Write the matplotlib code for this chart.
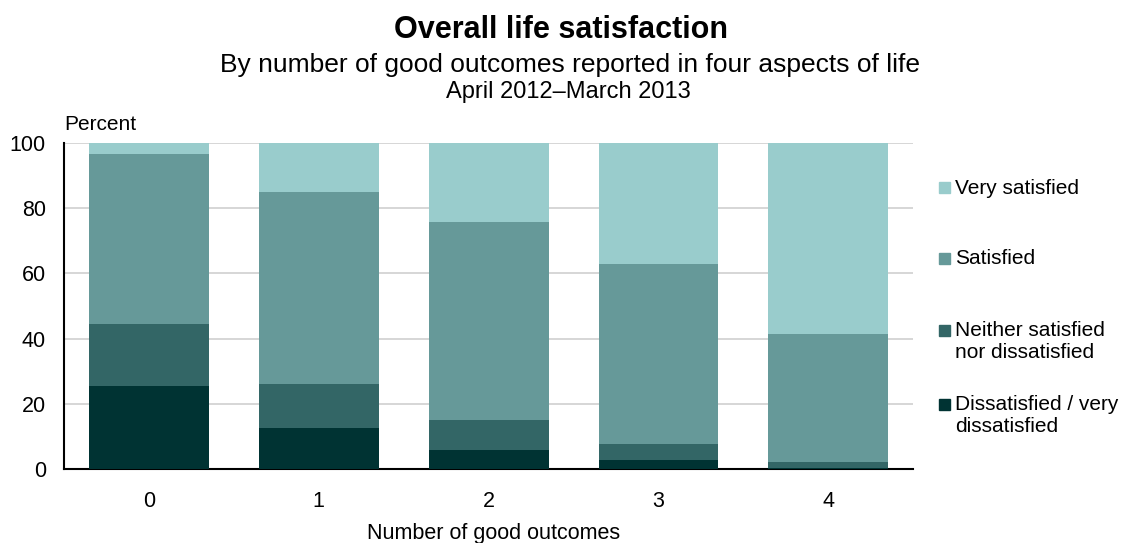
import numpy as np
import matplotlib.pyplot as plt
from matplotlib.patches import Rectangle

plt.rcParams["font.family"] = ["Liberation Sans", "DejaVu Sans"]

outcomes = ["0", "1", "2", "3", "4"]
categories = ["Dissatisfied / very\ndissatisfied", "Neither satisfied\nnor dissatisfied",
              "Satisfied", "Very satisfied"]
dissatisfied = [25.5, 12.6, 5.8, 2.8, 0.3]
neither = [19.0, 13.4, 9.2, 4.9, 1.8]
satisfied = [52.1, 59.0, 60.8, 55.2, 39.3]
very_satisfied = [3.4, 15.0, 24.2, 37.1, 58.6]

colors = ["#003333", "#336666", "#669999", "#99CCCC"]

W, H = 1122, 543
fig = plt.figure(figsize=(W / 100, H / 100), dpi=100)
ax = fig.add_axes([0.057, 0.1363, 0.757, 0.6003])

x = np.arange(len(outcomes))
bottom = np.zeros(len(outcomes))
series = [dissatisfied, neither, satisfied, very_satisfied]
for vals, col in zip(series, colors):
    ax.bar(x, vals, bottom=bottom, width=0.706, color=col, zorder=3)
    bottom += np.array(vals)

ax.set_xlim(-0.5, 4.5)
ax.set_ylim(0, 100)
ax.set_yticks(range(0, 101, 20))
ax.set_xticks(x)
ax.set_xticklabels(outcomes)
ax.yaxis.grid(True, color="#d0d0d0", linewidth=1.2, zorder=0)
for s in ["top", "right"]:
    ax.spines[s].set_visible(False)
ax.spines["left"].set_linewidth(1.5)
ax.spines["bottom"].set_linewidth(1.5)
ax.tick_params(axis="both", length=0, labelsize=15.5, pad=13)
ax.tick_params(axis="x", pad=16)

ax.text(0, 1.028, "Percent", transform=ax.transAxes, fontsize=15, ha="left", va="bottom")
fig.text(0.44, 0.018, "Number of good outcomes", fontsize=15.5, ha="center", va="center")

fig.text(0.5, 0.944, "Overall life satisfaction", fontsize=22, fontweight="bold",
         ha="center", va="center")
fig.text(0.508, 0.881, "By number of good outcomes reported in four aspects of life",
         fontsize=19, ha="center", va="center")
fig.text(0.507, 0.831, "April 2012\u2013March 2013", fontsize=17, ha="center", va="center")

# legend, drawn by hand so the two-line entries sit like the original
leg_rows = [188, 259, 330, 404]  # first-line centres, px from top
for lab, col, yy in zip(categories[::-1], colors[::-1], leg_rows):
    nlines = lab.count("\n") + 1
    fig.patches.append(Rectangle((939 / W, 1 - (yy + 5.5) / H), 11 / W, 11 / H,
                                 transform=fig.transFigure, color=col, figure=fig))
    yc = yy + (nlines - 1) * 12
    fig.text(955 / W, 1 - yc / H, lab, fontsize=15, ha="left", va="center",
             linespacing=1.2)

fig.savefig("out.png", dpi=100)
